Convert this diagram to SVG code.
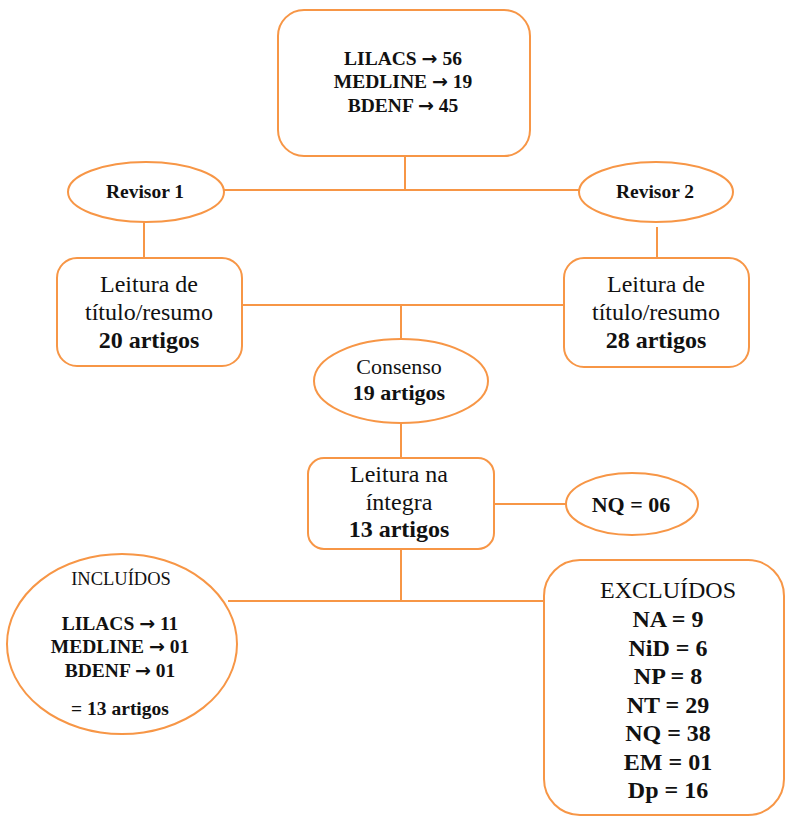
<svg xmlns="http://www.w3.org/2000/svg" width="790" height="821" viewBox="0 0 790 821">
<style>
.s{fill:#fff;stroke:#F79646;stroke-width:2}
.c{stroke:#F79646;stroke-width:2;fill:none}
text{font-family:"Liberation Serif","Times New Roman",serif;fill:#111;text-anchor:middle}
.b{font-weight:bold}
.a{font-family:"DejaVu Sans",sans-serif;font-weight:bold;font-size:19px}
</style>
<rect width="790" height="821" fill="#fff"/>
<g id="connectors">
<line class="c" x1="405" y1="156" x2="405" y2="190"/>
<line class="c" x1="224" y1="190" x2="580" y2="190"/>
<line class="c" x1="144" y1="222" x2="144" y2="258"/>
<line class="c" x1="657" y1="227" x2="657" y2="258"/>
<line class="c" x1="242" y1="305" x2="564" y2="305"/>
<line class="c" x1="401" y1="305" x2="401" y2="340"/>
<line class="c" x1="401" y1="423" x2="401" y2="458"/>
<line class="c" x1="494" y1="504" x2="566" y2="504"/>
<line class="c" x1="401" y1="549" x2="401" y2="600"/>
<line class="c" x1="228" y1="601" x2="545" y2="601"/>
</g>
<g id="sources">
<rect class="s" x="278" y="10" width="252" height="146" rx="26"/>
<text class="b" font-size="19.5" x="403" y="65">LILACS <tspan class="a">→</tspan> 56</text>
<text class="b" font-size="19.5" x="403" y="88">MEDLINE <tspan class="a">→</tspan> 19</text>
<text class="b" font-size="19.5" x="403" y="112">BDENF <tspan class="a">→</tspan> 45</text>
</g>
<g id="revisor1">
<ellipse class="s" cx="146" cy="192" rx="78" ry="30"/>
<text class="b" font-size="19.5" x="145" y="198">Revisor 1</text>
</g>
<g id="revisor2">
<ellipse class="s" cx="656" cy="192" rx="77" ry="30"/>
<text class="b" font-size="19.5" x="655" y="198">Revisor 2</text>
</g>
<g id="leitura1">
<rect class="s" x="57" y="258" width="185" height="108" rx="20"/>
<text font-size="24" x="149" y="292">Leitura de</text>
<text font-size="24" x="149" y="320">título/resumo</text>
<text class="b" font-size="24" x="149" y="348">20 artigos</text>
</g>
<g id="leitura2">
<rect class="s" x="564" y="258" width="185" height="109" rx="20"/>
<text font-size="24" x="656" y="292">Leitura de</text>
<text font-size="24" x="656" y="320">título/resumo</text>
<text class="b" font-size="24" x="656" y="348">28 artigos</text>
</g>
<g id="consenso">
<ellipse class="s" cx="401" cy="381" rx="87" ry="42"/>
<text font-size="22" x="399" y="374">Consenso</text>
<text class="b" font-size="22" x="399" y="400">19 artigos</text>
</g>
<g id="integra">
<rect class="s" x="308" y="458" width="186" height="91" rx="16"/>
<text font-size="24" x="399" y="482">Leitura na</text>
<text font-size="24" x="399" y="510">íntegra</text>
<text class="b" font-size="24" x="399" y="537">13 artigos</text>
</g>
<g id="nq">
<ellipse class="s" cx="632" cy="504" rx="66" ry="31"/>
<text class="b" font-size="22" x="631" y="512">NQ = 06</text>
</g>
<g id="incluidos">
<ellipse class="s" cx="122" cy="644" rx="115" ry="90"/>
<text font-size="18.5" x="121" y="585">INCLUÍDOS</text>
<text class="b" font-size="19.5" x="120" y="630">LILACS <tspan class="a">→</tspan> 11</text>
<text class="b" font-size="19.5" x="120" y="653">MEDLINE <tspan class="a">→</tspan> 01</text>
<text class="b" font-size="19.5" x="120" y="677">BDENF <tspan class="a">→</tspan> 01</text>
<text class="b" font-size="19.5" x="120" y="715">= 13 artigos</text>
</g>
<g id="excluidos">
<rect class="s" x="544" y="560" width="240" height="255" rx="36"/>
<text font-size="24" x="668" y="598">EXCLUÍDOS</text>
<text class="b" font-size="24" x="668" y="627">NA = 9</text>
<text class="b" font-size="24" x="668" y="656">NiD = 6</text>
<text class="b" font-size="24" x="668" y="684">NP = 8</text>
<text class="b" font-size="24" x="668" y="713">NT = 29</text>
<text class="b" font-size="24" x="668" y="741">NQ = 38</text>
<text class="b" font-size="24" x="668" y="770">EM = 01</text>
<text class="b" font-size="24" x="668" y="798">Dp = 16</text>
</g>
</svg>
